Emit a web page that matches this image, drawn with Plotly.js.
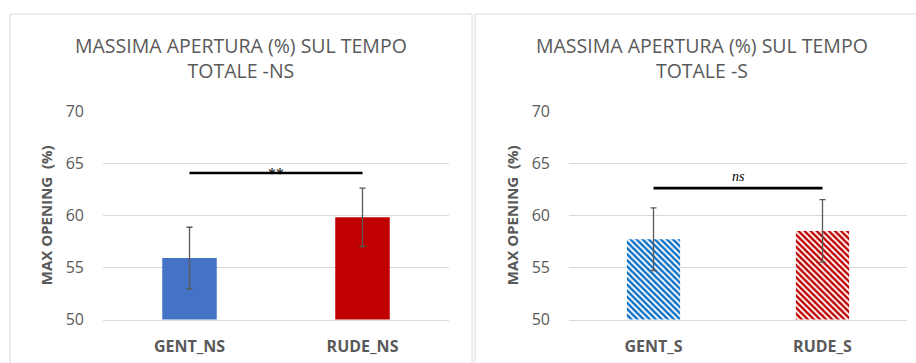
<!DOCTYPE html>
<html>
<head>
<meta charset="utf-8">
<script src="https://cdn.plot.ly/plotly-3.0.1.min.js"></script>
<style>
  html, body { margin: 0; padding: 0; background: #ffffff; }
  #chart { width: 916px; height: 363px; }
</style>
</head>
<body>
<div id="chart"></div>
<script>
// Max opening (%) over total time, two conditions: NS (solid) and S (hatched)
const categoriesNS = ['GENT_NS', 'RUDE_NS'];
const valuesNS = [55.9, 59.8];
const errorsNS = [2.95, 2.8];

const categoriesS = ['GENT_S', 'RUDE_S'];
const valuesS = [57.7, 58.5];
const errorsS = [3.0, 3.0];

const sigLevelNS = 64.05;
const sigTextNS = '**';
const sigLevelS = 62.6;
const sigTextS = 'ns';

const titleNS = 'MASSIMA APERTURA (%) SUL TEMPO<br>TOTALE -NS';
const titleS = 'MASSIMA APERTURA (%) SUL TEMPO<br>TOTALE -S';
const yTitle = 'MAX OPENING  (%)';
const yTicks = [50, 55, 60, 65, 70];

const W = 916, H = 363;
const px = v => v / W;
const py = v => 1 - v / H;

const FONT = 'Open Sans, Lato, sans-serif';
const GREY = '#595959';

const traces = [
  {
    type: 'bar', x: categoriesNS, y: valuesNS, xaxis: 'x', yaxis: 'y',
    width: 0.315,
    marker: { color: ['#4472C4', '#C00000'], line: { width: 0 } },
    error_y: { type: 'data', array: errorsNS, visible: true, color: GREY, thickness: 1.3, width: 3 },
    hoverinfo: 'skip', showlegend: false
  },
  {
    type: 'bar', x: categoriesS, y: valuesS, xaxis: 'x2', yaxis: 'y2',
    width: 0.315,
    marker: {
      color: '#ffffff',
      line: { width: 0 },
      pattern: { shape: '\\', fgcolor: ['#0B6FC4', '#C00000'], bgcolor: '#ffffff', size: 4.3, solidity: 0.55, fillmode: 'replace' }
    },
    error_y: { type: 'data', array: errorsS, visible: true, color: GREY, thickness: 1.3, width: 3 },
    hoverinfo: 'skip', showlegend: false
  },
  {
    type: 'scatter', mode: 'lines', x: categoriesNS, y: [sigLevelNS, sigLevelNS],
    xaxis: 'x', yaxis: 'y', line: { color: '#000000', width: 2.6 },
    hoverinfo: 'skip', showlegend: false, cliponaxis: false
  },
  {
    type: 'scatter', mode: 'lines', x: categoriesS, y: [sigLevelS, sigLevelS],
    xaxis: 'x2', yaxis: 'y2', line: { color: '#000000', width: 2.6 },
    hoverinfo: 'skip', showlegend: false, cliponaxis: false
  }
];

const yAxisBase = {
  range: [50, 70], tickvals: yTicks, ticktext: yTicks.map(String),
  showgrid: true, gridcolor: '#D9D9D9', gridwidth: 1,
  zeroline: false, showline: false, ticks: '',
  ticklabelstandoff: 18,
  tickfont: { family: FONT, size: 16, color: GREY },
  title: { text: yTitle, font: { family: FONT, size: 15, color: GREY, weight: 'bold' }, standoff: 9 },
  domain: [py(319.5), py(111)], fixedrange: true
};

const xAxisBase = {
  type: 'category', showgrid: false, zeroline: false,
  showline: true, linecolor: '#D9D9D9', linewidth: 1, ticks: '',
  tickfont: { family: FONT, size: 16, color: GREY, weight: 'bold' },
  ticklabelstandoff: 12, fixedrange: true
};

const layout = {
  width: W, height: H,
  margin: { l: 0, r: 0, t: 0, b: 0 },
  paper_bgcolor: '#ffffff', plot_bgcolor: 'rgba(0,0,0,0)',
  showlegend: false,
  xaxis: Object.assign({}, xAxisBase, { domain: [px(103), px(449)], anchor: 'y' }),
  yaxis: Object.assign({}, yAxisBase, { anchor: 'x' }),
  xaxis2: Object.assign({}, xAxisBase, { domain: [px(569), px(907)], anchor: 'y2' }),
  yaxis2: Object.assign({}, yAxisBase, { anchor: 'x2' }),
  shapes: [
    { type: 'rect', xref: 'paper', yref: 'paper', x0: px(10), x1: px(472), y0: py(375), y1: py(14),
      line: { color: '#D9D9D9', width: 1 }, fillcolor: 'rgba(0,0,0,0)', layer: 'below' },
    { type: 'rect', xref: 'paper', yref: 'paper', x0: px(475), x1: px(930), y0: py(375), y1: py(14),
      line: { color: '#D9D9D9', width: 1 }, fillcolor: 'rgba(0,0,0,0)', layer: 'below' }
  ],
  annotations: [
    { xref: 'paper', yref: 'paper', x: px(241), y: py(58), text: titleNS, showarrow: false,
      font: { family: FONT, size: 19.5, color: GREY }, xanchor: 'center', yanchor: 'middle', align: 'center' },
    { xref: 'paper', yref: 'paper', x: px(702), y: py(58), text: titleS, showarrow: false,
      font: { family: FONT, size: 19.5, color: GREY }, xanchor: 'center', yanchor: 'middle', align: 'center' },
    { xref: 'x', yref: 'y', x: 0.5, y: sigLevelNS, text: sigTextNS, showarrow: false,
      font: { family: 'Liberation Serif, DejaVu Serif, serif', size: 16, color: '#000000' },
      yanchor: 'bottom', yshift: -11 },
    { xref: 'x2', yref: 'y2', x: 0.5, y: sigLevelS, text: '<i>' + sigTextS + '</i>', showarrow: false,
      font: { family: 'Liberation Serif, DejaVu Serif, serif', size: 14, color: '#000000' },
      yanchor: 'bottom', yshift: 2 }
  ]
};

Plotly.newPlot('chart', traces, layout, { staticPlot: true, displayModeBar: false });
</script>
</body>
</html>
